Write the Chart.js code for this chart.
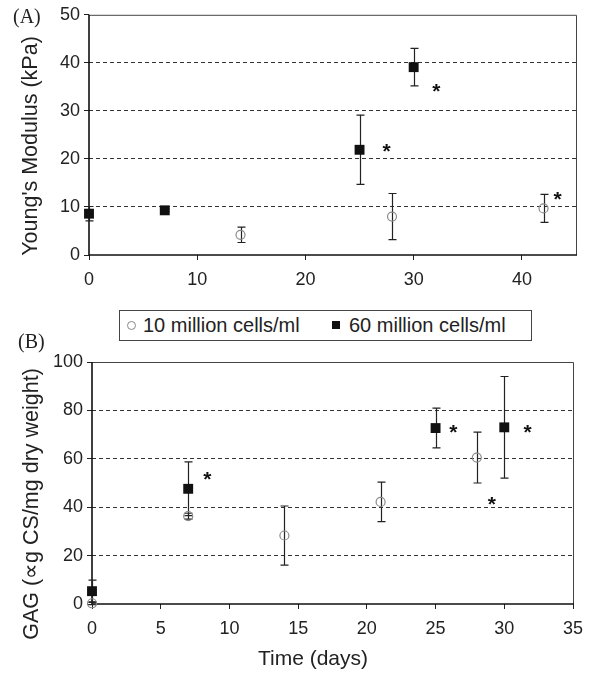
<!DOCTYPE html>
<html><head><meta charset="utf-8">
<script src="https://cdn.jsdelivr.net/npm/chart.js@4.4.1/dist/chart.umd.min.js"></script>
<style>
body{margin:0;background:#fff;width:593px;height:673px;position:relative;overflow:hidden;font-family:'Liberation Sans',Arial,sans-serif;}
#cA{position:absolute;left:0;top:0;}
#cB{position:absolute;left:0;top:345px;}
.lab{position:absolute;font-family:'Liberation Serif','Times New Roman',serif;font-size:20px;color:#222;line-height:20px;}
#legend{position:absolute;left:119px;top:310px;width:411px;height:29px;border:1px solid #444;font-size:20px;color:#222;}
#legend span{position:absolute;}
.lt{top:3px;line-height:23px;white-space:nowrap;}
.lc{width:7px;height:7px;border:1px solid #888;border-radius:50%;top:10px;}
.ls{width:8px;height:8px;background:#111;top:10px;}
</style>
</head><body>
<canvas id="cA" width="593" height="300"></canvas>
<canvas id="cB" width="593" height="328"></canvas>
<div class="lab" style="left:13px;top:6px;">(A)</div>
<div class="lab" style="left:18px;top:331px;">(B)</div>
<div id="legend">
  <span class="lc" style="left:7px;"></span><span class="lt" style="left:23px;">10 million cells/ml</span>
  <span class="ls" style="left:212px;"></span><span class="lt" style="left:229px;">60 million cells/ml</span>
</div>
<script>
// ---------- Panel A: Young's modulus ----------
const daysA10 = [14, 28, 42];
const modA10 = [4.2, 8.0, 9.7];
const errA10 = [1.6, 4.8, 2.9];
const daysA60 = [0, 7, 25, 30];
const modA60 = [8.6, 9.3, 21.9, 39.1];
const errA60 = [1.5, 0.3, 7.2, 3.9];
const starsAx = [32.1, 27.5, 43.3];
const starsAy = [35.1, 22.7, 12.6];
const ticksAx = [0, 10, 20, 30, 40];

// ---------- Panel B: GAG ----------
const daysB10 = [0, 7, 14, 21, 28];
const gagB10 = [0.3, 36.3, 28.3, 42.2, 60.5];
const errB10 = [0.6, 1.2, 12.2, 8.2, 10.5];
const daysB60 = [0, 7, 25, 30];
const gagB60 = [5.3, 47.6, 72.7, 73.0];
const errB60 = [4.6, 11.1, 8.2, 21.0];
const starsBx = [8.4, 26.3, 31.7, 29.1];
const starsBy = [53.7, 73.0, 73.0, 43.5];
const ticksBx = [0, 5, 10, 15, 20, 25, 30, 35];

const FONT = "'Liberation Sans', Arial, sans-serif";
const toPts = (xs, ys) => xs.map((x, i) => ({x, y: ys[i]}));

const errPlugin = {
  id: 'errbars',
  beforeDatasetsDraw(chart, args, opts) {
    const {ctx, chartArea: a, scales: {x, y}} = chart;
    ctx.save();
    // frame
    ctx.strokeStyle = '#444'; ctx.lineWidth = 1;
    ctx.beginPath();
    ctx.moveTo(a.left, a.top + 0.5); ctx.lineTo(a.right + 0.5, a.top + 0.5); ctx.lineTo(a.right + 0.5, a.bottom);
    ctx.stroke();
    ctx.strokeStyle = '#111'; ctx.lineWidth = 1.6;
    ctx.beginPath();
    ctx.moveTo(a.left, a.top); ctx.lineTo(a.left, a.bottom); ctx.lineTo(a.right + 1, a.bottom);
    ctx.stroke();
    // error bars
    ctx.strokeStyle = '#222'; ctx.lineWidth = 1.2;
    chart.data.datasets.forEach(ds => {
      const errs = ds.errorBars; if (!errs) return;
      ds.data.forEach((p, i) => {
        const e = errs[i]; if (!e) return;
        const px = Math.round(x.getPixelForValue(p.x)) + 0.5;
        const t = y.getPixelForValue(p.y + e), b = y.getPixelForValue(p.y - e);
        ctx.beginPath();
        ctx.moveTo(px, t); ctx.lineTo(px, b);
        ctx.moveTo(px - 4, t); ctx.lineTo(px + 4, t);
        ctx.moveTo(px - 4, b); ctx.lineTo(px + 4, b);
        ctx.stroke();
      });
    });
    ctx.restore();
  },
  afterDatasetsDraw(chart, args, opts) {
    const {ctx, scales: {x, y}} = chart;
    const sx = opts.starsX || [], sy = opts.starsY || [];
    ctx.save();
    ctx.fillStyle = '#111';
    ctx.font = 'bold 21px ' + FONT;
    ctx.textAlign = 'center'; ctx.textBaseline = 'alphabetic';
    sx.forEach((v, i) => {
      ctx.fillText('*', x.getPixelForValue(v), y.getPixelForValue(sy[i]) + 12);
    });
    // axis titles
    ctx.fillStyle = '#222';
    ctx.font = '21.5px ' + FONT;
    if (opts.ytitle) {
      ctx.save();
      ctx.translate(opts.ytx, opts.yty);
      ctx.rotate(-Math.PI / 2);
      ctx.textAlign = 'center'; ctx.textBaseline = 'middle';
      ctx.fillText(opts.ytitle, 0, 0);
      ctx.restore();
    }
    if (opts.xtitle) {
      ctx.font = '21px ' + FONT;
      ctx.textAlign = 'center'; ctx.textBaseline = 'alphabetic';
      ctx.fillText(opts.xtitle, opts.xtx, opts.xty);
    }
    ctx.restore();
  }
};

function makeChart(id, cfg) {
  return new Chart(document.getElementById(id), {
    type: 'scatter',
    data: {datasets: [
      {label: '10 million cells/ml', data: cfg.d10, errorBars: cfg.e10, pointStyle: 'circle', pointRadius: 4.5,
       pointBorderColor: '#8a8a8a', pointBackgroundColor: 'rgba(0,0,0,0)', pointBorderWidth: 1.2, showLine: false, clip: false},
      {label: '60 million cells/ml', data: cfg.d60, errorBars: cfg.e60, pointStyle: 'rect', pointRadius: 7,
       pointBorderColor: '#111', pointBackgroundColor: '#111', pointBorderWidth: 0, showLine: false, clip: false}
    ]},
    options: {
      responsive: false, animation: false,
      layout: {padding: cfg.pad},
      plugins: {legend: {display: false}, tooltip: {enabled: false},
        errbars: {starsX: cfg.sx, starsY: cfg.sy, ytitle: cfg.ytitle, ytx: cfg.ytx, yty: cfg.yty,
                  xtitle: cfg.xtitle, xtx: cfg.xtx, xty: cfg.xty}},
      scales: {
        x: {type: 'linear', min: 0, max: cfg.xmax,
          ticks: {stepSize: cfg.xstep, font: {family: FONT, size: 18}, color: '#222', padding: 9, maxRotation: 0},
          afterBuildTicks: s => { s.ticks = cfg.xticks.map(v => ({value: v})); },
          grid: {drawOnChartArea: false, drawTicks: true, tickLength: 5, color: '#222'},
          border: {display: false},
          afterFit: s => { s.height = cfg.xh; }
        },
        y: {min: 0, max: cfg.ymax,
          ticks: {stepSize: cfg.ystep, font: {family: FONT, size: 18}, color: '#222', padding: 4},
          grid: {color: c => (c.tick && (c.tick.value === 0 || c.tick.value === cfg.ymax)) ? 'rgba(0,0,0,0)' : '#333',
                 tickBorderDash: [], tickColor: '#222', tickLength: 5, lineWidth: 1},
          border: {display: false, dash: [4, 3]},
          afterFit: s => { s.width = cfg.yw; }
        }
      }
    },
    plugins: [errPlugin]
  });
}

makeChart('cA', {
  d10: toPts(daysA10, modA10), e10: errA10, d60: toPts(daysA60, modA60), e60: errA60,
  sx: starsAx, sy: starsAy, xmax: 45, xstep: 10, xticks: ticksAx, ymax: 50, ystep: 10,
  pad: {left: 0, right: 17, top: 13, bottom: 0}, xh: 45, yw: 89,
  ytitle: "Young's Modulus (kPa)", ytx: 31, yty: 146
});

makeChart('cB', {
  d10: toPts(daysB10, gagB10), e10: errB10, d60: toPts(daysB60, gagB60), e60: errB60,
  sx: starsBx, sy: starsBy, xmax: 35, xstep: 5, xticks: ticksBx, ymax: 100, ystep: 20,
  pad: {left: 0, right: 20, top: 17, bottom: 0}, xh: 69, yw: 92,
  ytitle: "GAG (\u221Dg CS/mg dry weight)", ytx: 32, yty: 159,
  xtitle: 'Time (days)', xtx: 313, xty: 320
});
</script>
</body></html>
